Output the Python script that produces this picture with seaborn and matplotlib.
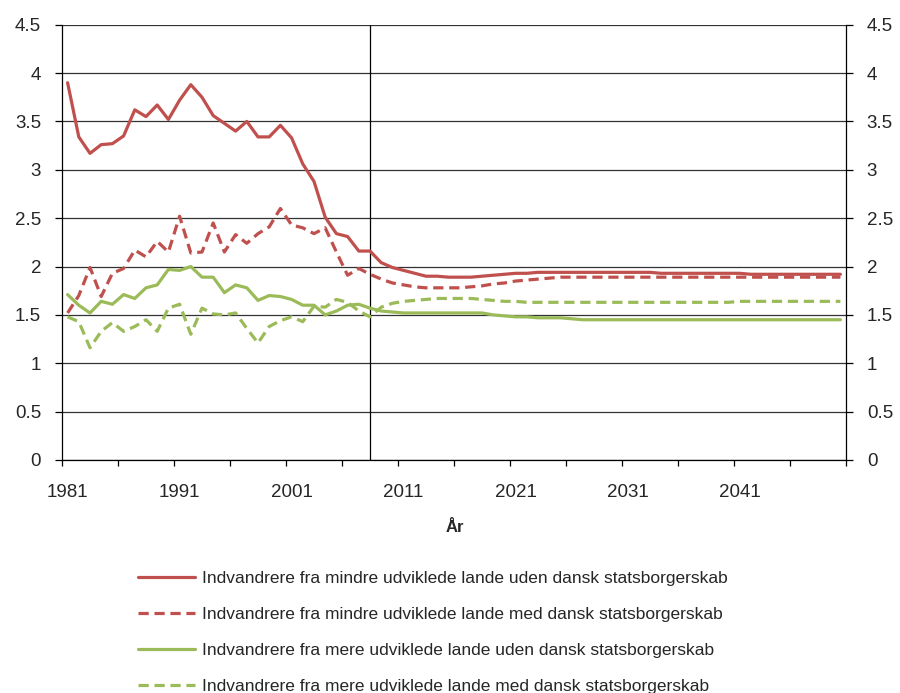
import numpy as np
import pandas as pd
import matplotlib
matplotlib.use("Agg")
import matplotlib.pyplot as plt
import seaborn as sns

years = list(range(1981, 2051))

mindre_uden = [3.90, 3.34, 3.17, 3.26, 3.27, 3.35, 3.62, 3.55, 3.67, 3.52,
               3.72, 3.88, 3.75, 3.56, 3.48, 3.40, 3.50, 3.34, 3.34, 3.46,
               3.33, 3.06, 2.88, 2.51, 2.34, 2.31, 2.16, 2.16, 2.04, 1.99,
               1.96, 1.93, 1.90, 1.90, 1.89, 1.89, 1.89, 1.90, 1.91, 1.92,
               1.93, 1.93, 1.94] + [1.94] * 10 + [1.93] * 8 + [1.92] * 9

mindre_med = [1.52, 1.70, 1.99, 1.69, 1.93, 1.98, 2.17, 2.10, 2.26, 2.15,
              2.52, 2.14, 2.15, 2.45, 2.15, 2.33, 2.24, 2.34, 2.41, 2.60,
              2.43, 2.40, 2.34, 2.40, 2.15, 1.91, 1.98, 1.92, 1.87, 1.83,
              1.81, 1.79, 1.78, 1.78, 1.78, 1.78, 1.79, 1.80, 1.82, 1.83,
              1.85, 1.86, 1.87, 1.88] + [1.89] * 26

mere_uden = [1.71, 1.60, 1.52, 1.64, 1.61, 1.71, 1.67, 1.78, 1.81, 1.97,
             1.96, 2.00, 1.89, 1.89, 1.73, 1.81, 1.78, 1.65, 1.70, 1.69,
             1.66, 1.60, 1.60, 1.50, 1.54, 1.60, 1.61, 1.57, 1.54, 1.53] \
            + [1.52] * 8 + [1.50, 1.49, 1.48, 1.48, 1.47, 1.47, 1.47, 1.46] + [1.45] * 24

mere_med = [1.48, 1.43, 1.16, 1.33, 1.42, 1.33, 1.38, 1.45, 1.33, 1.57,
            1.61, 1.30, 1.57, 1.51, 1.50, 1.52, 1.36, 1.21, 1.38, 1.44,
            1.48, 1.43, 1.59, 1.58, 1.66, 1.63, 1.54, 1.48, 1.58, 1.62,
            1.64, 1.65, 1.66, 1.67, 1.67, 1.67, 1.67, 1.66, 1.65, 1.64,
            1.64, 1.63] + [1.63] * 18 + [1.64] * 10

labels = ["Indvandrere fra mindre udviklede lande uden dansk statsborgerskab",
          "Indvandrere fra mindre udviklede lande med dansk statsborgerskab",
          "Indvandrere fra mere udviklede lande uden dansk statsborgerskab",
          "Indvandrere fra mere udviklede lande med dansk statsborgerskab"]

sns.set_style("white")
plt.rcParams['font.family'] = ['Liberation Sans', 'DejaVu Sans']

red = '#C0504D'
green = '#9BBB59'

fig = plt.figure(figsize=(9, 6.93), dpi=100)
ax = fig.add_axes([62/900, 1-460/693, 784/900, 435.3/693])

series = [(mindre_uden, red, '-'), (mindre_med, red, '--'),
          (mere_uden, green, '-'), (mere_med, green, '--')]
for (vals, col, ls), lab in zip(series, labels):
    sns.lineplot(x=years, y=vals, ax=ax, color=col, linewidth=2.3, label=lab)
    line = ax.get_lines()[-1]
    if ls == '--':
        line.set_dashes((3.2, 1.8))

# skillelinje ved 2008
ax.axvline(2008, color='black', linewidth=0.9, zorder=1)

ax.set_xlim(1980.5, 2050.5)
ax.set_ylim(0, 4.5)
yt = np.arange(0, 4.51, 0.5)
ax.set_yticks(yt)
ax.set_yticklabels(['0' if v == 0 else ('%g' % v) for v in yt])
ax.yaxis.grid(True, color='#333333', linewidth=0.9)
ax.set_axisbelow(True)

ax.set_xticks(np.arange(1980.5, 2051, 5))
ax.set_xticklabels([])
ax.set_xticks(np.arange(1981, 2042, 10), minor=True)
ax.set_xticklabels([str(y) for y in range(1981, 2042, 10)], minor=True)
ax.tick_params(axis='x', which='major', direction='out', length=4, width=0.9, color='black', bottom=True)
ax.tick_params(axis='x', which='minor', length=0, pad=17, labelsize=13.5)
ax.tick_params(axis='y', direction='out', length=5, width=0.9, color='black', pad=10, labelsize=13.5, left=True)

for s in ['left', 'bottom', 'right']:
    ax.spines[s].set_color('black')
    ax.spines[s].set_linewidth(0.9)
ax.spines['top'].set_visible(False)

ax2 = ax.twinx()
ax2.set_ylim(0, 4.5)
ax2.set_yticks(yt)
ax2.set_yticklabels(['0' if v == 0 else ('%g' % v) for v in yt])
ax2.tick_params(axis='y', direction='out', length=5, width=0.9, color='black', pad=10, labelsize=13.5, right=True)
for s in ax2.spines.values():
    s.set_visible(False)

ax.set_xlabel('')
ax.set_ylabel('')
fig.text(455/900, 1-527/693, 'År', ha='center', va='center', fontsize=12, fontweight='bold')

handles, labs = ax.get_legend_handles_labels()
ax.get_legend().remove()
fig.legend(handles, labs, loc='upper left', bbox_to_anchor=(138/900, 1-571/693),
           frameon=False, fontsize=12.5, handlelength=3.3, handletextpad=0.4,
           labelspacing=1.2, borderpad=0, borderaxespad=0)

fig.savefig('out.png', dpi=100)
